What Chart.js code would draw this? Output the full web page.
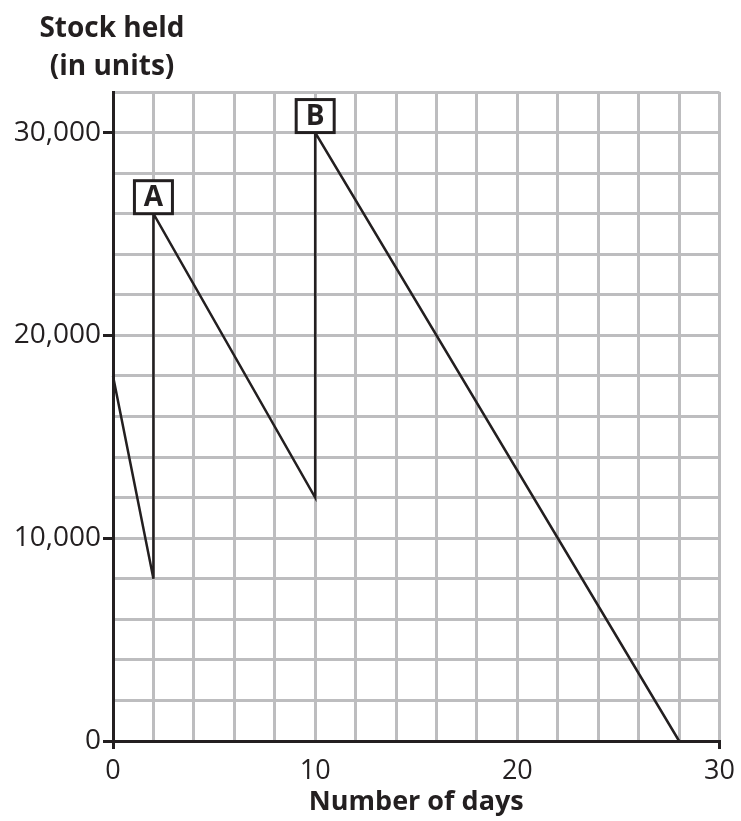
<!DOCTYPE html>
<html lang="en">
<head>
    <meta charset="UTF-8" />
    <title>Stock held</title>
    <script src="https://cdn.jsdelivr.net/npm/chart.js@4.4.0/dist/chart.umd.min.js"></script>
    <style>
        html, body { margin: 0; padding: 0; background: #fff; }
        #wrap { width: 741px; height: 821px; }
    </style>
</head>
<body>
    <div id="wrap"><canvas id="chart"></canvas></div>

    <script>
        // days and stock level (units)
        const days = [0, 2, 2, 10, 10, 28];
        const stock = [18000, 8000, 26000, 12000, 30000, 0];
        // boxed labels: [day, stock, text]
        const marks = [[2, 26000, 'A'], [10, 30000, 'B']];
        const xLabels = [0, 10, 20, 30];
        const yLabels = [0, 10000, 20000, 30000];

        const points = days.map((d, i) => ({ x: d, y: stock[i] }));
        const font = '"Open Sans", "Liberation Sans", sans-serif';

        // horizontal y title at top, and the A / B boxes
        const extras = {
            id: 'extras',
            afterDraw(chart) {
                const ctx = chart.ctx;
                const xs = chart.scales.x, ys = chart.scales.y;
                ctx.save();
                ctx.fillStyle = '#231f20';
                ctx.font = 'bold 28px ' + font;
                ctx.textAlign = 'center';
                ctx.textBaseline = 'middle';
                ctx.fillText('Stock held', 112, 29);
                ctx.fillText('(in units)', 112, 67);

                marks.forEach(([d, v, t]) => {
                    const px = xs.getPixelForValue(d);
                    const py = ys.getPixelForValue(v);
                    const w = 38, h = 33;
                    ctx.fillStyle = '#fff';
                    ctx.fillRect(px - w / 2, py - h, w, h);
                    ctx.strokeStyle = '#231f20';
                    ctx.lineWidth = 3;
                    ctx.strokeRect(px - w / 2, py - h, w, h);
                    ctx.fillStyle = '#231f20';
                    ctx.font = 'bold 28px ' + font;
                    ctx.fillText(t, px, py - h / 2 + 1);
                });
                ctx.restore();
            }
        };

        new Chart(document.getElementById('chart'), {
            type: 'scatter',
            data: {
                datasets: [{
                    data: points,
                    showLine: true,
                    borderColor: '#231f20',
                    borderWidth: 2.5,
                    pointRadius: 0,
                    clip: false
                }]
            },
            options: {
                responsive: true,
                maintainAspectRatio: false,
                animation: false,
                layout: { padding: { top: 92, right: 20, left: 0, bottom: 0 } },
                plugins: { legend: { display: false }, tooltip: { enabled: false } },
                scales: {
                    x: {
                        type: 'linear',
                        min: 0, max: 30,
                        afterFit(s) { s.height = 80; },
                        border: { color: '#231f20', width: 3 },
                        grid: {
                            color: '#bdbdbf',
                            lineWidth: 3,
                            tickLength: 8,
                            tickWidth: 3,
                            tickColor: c => (c.tick && (c.tick.value === 0 || c.tick.value === 30)) ? '#231f20' : 'rgba(0,0,0,0)'
                        },
                        ticks: {
                            stepSize: 2,
                            autoSkip: false,
                            maxRotation: 0,
                            padding: 6,
                            color: '#231f20',
                            font: { family: font, size: 27 },
                            callback: v => xLabels.includes(v) ? String(v) : ''
                        },
                        title: {
                            display: true,
                            text: 'Number of days',
                            color: '#231f20',
                            font: { family: font, size: 27, weight: 'bold' },
                            padding: { top: 0, bottom: 2 }
                        }
                    },
                    y: {
                        type: 'linear',
                        min: 0, max: 32000,
                        afterFit(s) { s.width = 113; },
                        border: { color: '#231f20', width: 3 },
                        grid: {
                            color: '#bdbdbf',
                            lineWidth: 3,
                            tickLength: 10,
                            tickWidth: 3,
                            tickColor: c => (c.tick && yLabels.includes(c.tick.value)) ? '#231f20' : 'rgba(0,0,0,0)'
                        },
                        ticks: {
                            stepSize: 2000,
                            autoSkip: false,
                            padding: 2,
                            color: '#231f20',
                            font: { family: font, size: 28 },
                            callback: v => yLabels.includes(v) ? v.toLocaleString('en-US') : ''
                        }
                    }
                }
            },
            plugins: [extras]
        });
    </script>
</body>
</html>
